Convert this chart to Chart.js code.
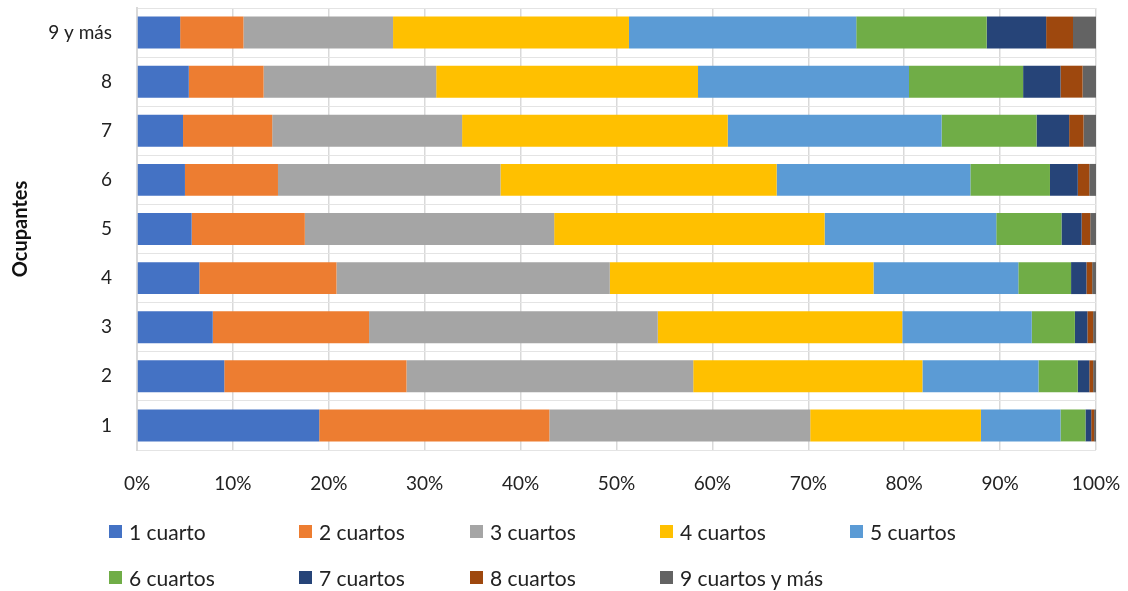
<!DOCTYPE html>
<html>
<head>
<meta charset="utf-8">
<script src="https://cdn.jsdelivr.net/npm/chart.js@4.4.1/dist/chart.umd.min.js"></script>
<style>
html,body{margin:0;padding:0;background:#fff;}
#wrap{position:relative;width:1128px;height:591px;}
#legend{position:absolute;left:109px;top:517px;display:grid;grid-template-columns:190px 171px 190px 190px 200px;row-gap:18px;
font-family:Lato,"Open Sans",sans-serif;font-size:21px;color:#222;}
#legend div{display:flex;align-items:center;height:28px;white-space:nowrap;}
#legend span{display:inline-block;width:13px;height:13px;margin-right:7px;}
</style>
</head>
<body>
<div id="wrap">
<canvas id="chart" width="1128" height="591"></canvas>
<div id="legend"></div>
</div>
<script>
// filas: número de ocupantes (de abajo hacia arriba)
const ocupantes = ["1","2","3","4","5","6","7","8","9 y más"];

const series = ["1 cuarto","2 cuartos","3 cuartos","4 cuartos","5 cuartos","6 cuartos","7 cuartos","8 cuartos","9 cuartos y más"];

// porcentajes por fila (1 ... 9 y más)
const cuarto1  = [19.0, 9.1, 7.9, 6.5, 5.7, 5.0, 4.8, 5.4, 4.5];
const cuartos2 = [24.0,19.0,16.3,14.3,11.8, 9.7, 9.3, 7.8, 6.6];
const cuartos3 = [27.2,29.9,30.1,28.5,26.0,23.2,19.8,18.0,15.6];
const cuartos4 = [17.8,23.9,25.5,27.5,28.2,28.8,27.7,27.3,24.6];
const cuartos5 = [ 8.3,12.1,13.5,15.1,17.9,20.2,22.3,22.0,23.7];
const cuartos6 = [ 2.6, 4.1, 4.5, 5.5, 6.8, 8.3, 9.9,11.9,13.6];
const cuartos7 = [ 0.6, 1.2, 1.3, 1.6, 2.1, 2.9, 3.4, 3.9, 6.2];
const cuartos8 = [ 0.3, 0.4, 0.6, 0.6, 0.9, 1.2, 1.5, 2.3, 2.8];
const cuartos9 = [ 0.2, 0.3, 0.3, 0.4, 0.6, 0.7, 1.3, 1.4, 2.4];

const xTicks = [0,10,20,30,40,50,60,70,80,90,100];

const colors = ["#4472C4","#ED7D31","#A5A5A5","#FFC000","#5B9BD5","#70AD47","#264478","#9E480E","#636363"];

const values = [cuarto1,cuartos2,cuartos3,cuartos4,cuartos5,cuartos6,cuartos7,cuartos8,cuartos9];

let datasets = series.map((s,i)=>({
  label:s,
  data:values[i],
  backgroundColor:colors[i],
  borderWidth:0,
  categoryPercentage:1,
  barPercentage:0.65
}));

const font = {family:"Lato, 'Open Sans', sans-serif", size:19};

new Chart(document.getElementById("chart"),{
  type:"bar",
  data:{labels:ocupantes,datasets},
  options:{
    responsive:false,
    animation:false,
    devicePixelRatio:1,
    indexAxis:"y",
    layout:{padding:{left:0,right:32,top:8,bottom:0}},
    plugins:{legend:{display:false},tooltip:{enabled:false}},
    scales:{
      x:{
        stacked:true,
        min:0,max:100,
        afterBuildTicks:(sc)=>{ sc.ticks = xTicks.map(v=>({value:v})); },
        afterFit:(sc)=>{ sc.height = 141; sc.paddingLeft = 0; sc.paddingRight = 0; },
        grid:{color:"#d9d9d9",lineWidth:1.5,drawTicks:false},
        border:{display:false},
        ticks:{font,color:"#222",padding:22,maxRotation:0,callback:v=>v+"%"}
      },
      y:{
        stacked:true,
        reverse:true,
        afterFit:(sc)=>{ sc.width = 137; sc.paddingTop = 0; sc.paddingBottom = 0; },
        grid:{color:"#e4e4e4",lineWidth:1,drawTicks:false,offset:true},
        border:{color:"#d9d9d9",width:2},
        ticks:{font,color:"#222",padding:25},
        title:{display:true,text:"Ocupantes",color:"#111",padding:{top:9,bottom:0},
          font:{family:font.family,size:20,weight:"bold"}}
      }
    }
  }
});

/* leyenda */
const lg = document.getElementById("legend");
series.forEach((s,i)=>{
  const d = document.createElement("div");
  d.innerHTML = '<span style="background:'+colors[i]+'"></span>'+s;
  lg.appendChild(d);
});
</script>
</body>
</html>
